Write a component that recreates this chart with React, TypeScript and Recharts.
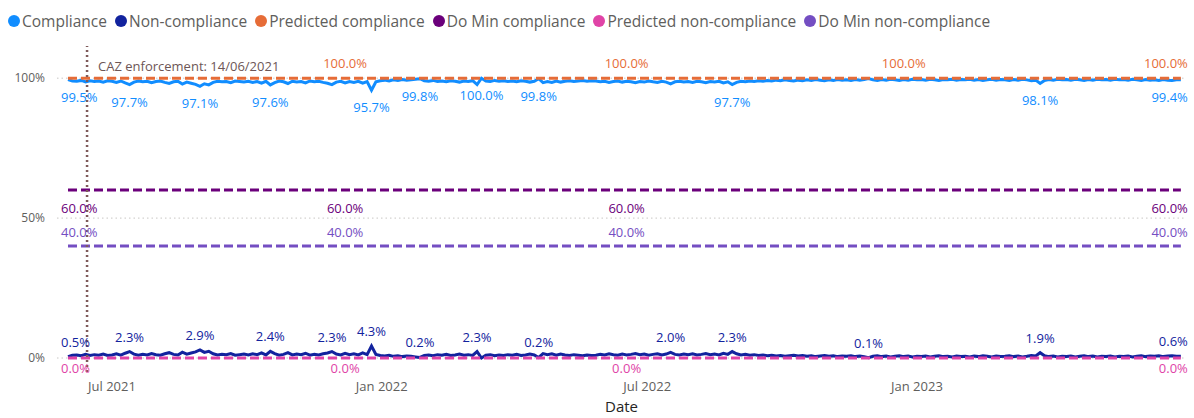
import { LineChart, Line, XAxis, YAxis, ReferenceLine } from 'recharts';

const FONT = '"Segoe UI", "Open Sans", sans-serif';
const DAY = 86400000;
const START = Date.UTC(2021, 5, 1);
const STEP_DAYS = 3;
const CAZ_DATE = Date.UTC(2021, 5, 14);

// 3-day readings, 01/06/2021 .. 30/06/2023
const compliance = [
  99.5, 99.0, 98.9, 99.2, 98.7, 99.1, 98.8, 99.0, 98.6, 99.1, 98.9, 98.5, 99.0, 98.3, 97.7, 98.6, 99.0, 98.7, 98.9, 98.4,
  98.8, 99.0, 98.5, 98.1, 98.7, 98.9, 97.9, 98.6, 98.2, 97.8, 97.1, 98.0, 97.6, 98.5, 98.9, 98.7, 98.8, 98.4, 99.0, 98.8,
  98.6, 98.9, 98.5, 98.8, 98.2, 98.9, 97.6, 98.4, 99.0, 98.7, 98.1, 98.9, 98.6, 98.8, 98.3, 99.0, 98.7, 98.9, 98.5, 98.2,
  97.7, 98.6, 98.9, 98.3, 98.8, 98.5, 98.9, 98.2, 98.8, 95.7, 98.7, 99.1, 99.3, 99.0, 99.4, 99.2, 99.5, 99.3, 99.4, 99.6,
  99.8, 99.1, 98.9, 99.2, 98.8, 99.0, 98.7, 99.1, 98.9, 98.6, 99.0, 98.8, 99.1, 97.7, 100.0, 99.0, 98.8, 99.2, 98.9, 99.1,
  98.8, 99.0, 98.7, 99.1, 98.9, 98.6, 98.9, 99.8, 98.4, 98.8, 98.5, 99.0, 98.6, 98.9, 99.1, 98.8, 99.0, 99.2, 98.9, 99.1,
  99.0, 98.7, 98.9, 98.5, 98.8, 99.0, 98.6, 98.9, 98.7, 98.4, 98.8, 98.6, 99.0, 98.7, 98.5, 98.9, 98.6, 98.0, 98.7, 98.9,
  98.6, 98.8, 98.5, 98.9, 98.7, 98.4, 98.8, 98.6, 98.9, 98.3, 98.7, 97.7, 98.5, 98.9, 98.7, 99.0, 98.8, 99.1, 98.9, 99.2,
  99.0, 99.3, 99.1, 99.4, 99.2, 99.0, 99.3, 99.1, 99.4, 99.2, 99.5, 99.3, 99.1, 99.4, 99.2, 99.5, 99.3, 99.4, 99.2, 99.5,
  99.3, 99.5, 99.9, 99.4, 99.2, 99.5, 99.3, 99.6, 99.4, 99.2, 99.5, 99.3, 99.6, 99.4, 99.5, 99.3, 99.6, 99.4, 99.2, 99.5,
  99.4, 99.6, 99.3, 99.5, 99.4, 99.6, 99.3, 99.5, 99.2, 99.4, 99.6, 99.3, 99.5, 99.4, 99.2, 99.5, 99.3, 99.6, 99.4, 99.1,
  99.3, 98.1, 99.2, 99.5, 99.3, 99.6, 99.4, 99.5, 99.3, 99.6, 99.4, 99.2, 99.5, 99.3, 99.6, 99.4, 99.5, 99.3, 99.6, 99.4,
  99.5, 99.3, 99.6, 99.4, 99.2, 99.5, 99.3, 99.4, 99.2, 99.5, 99.3, 99.2, 99.4, 99.4,
];

const nonCompliance = [
  0.5, 1.0, 1.1, 0.8, 1.3, 0.9, 1.2, 1.0, 1.4, 0.9, 1.1, 1.5, 1.0, 1.7, 2.3, 1.4, 1.0, 1.3, 1.1, 1.6,
  1.2, 1.0, 1.5, 1.9, 1.3, 1.1, 2.1, 1.4, 1.8, 2.2, 2.9, 2.0, 2.4, 1.5, 1.1, 1.3, 1.2, 1.6, 1.0, 1.2,
  1.4, 1.1, 1.5, 1.2, 1.8, 1.1, 2.4, 1.6, 1.0, 1.3, 1.9, 1.1, 1.4, 1.2, 1.7, 1.0, 1.3, 1.1, 1.5, 1.8,
  2.3, 1.4, 1.1, 1.7, 1.2, 1.5, 1.1, 1.8, 1.2, 4.3, 1.3, 0.9, 0.7, 1.0, 0.6, 0.8, 0.5, 0.7, 0.6, 0.4,
  0.2, 0.9, 1.1, 0.8, 1.2, 1.0, 1.3, 0.9, 1.1, 1.4, 1.0, 1.2, 0.9, 2.3, 0.0, 1.0, 1.2, 0.8, 1.1, 0.9,
  1.2, 1.0, 1.3, 0.9, 1.1, 1.4, 1.1, 0.2, 1.6, 1.2, 1.5, 1.0, 1.4, 1.1, 0.9, 1.2, 1.0, 0.8, 1.1, 0.9,
  1.0, 1.3, 1.1, 1.5, 1.2, 1.0, 1.4, 1.1, 1.3, 1.6, 1.2, 1.4, 1.0, 1.3, 1.5, 1.1, 1.4, 2.0, 1.3, 1.1,
  1.4, 1.2, 1.5, 1.1, 1.3, 1.6, 1.2, 1.4, 1.1, 1.7, 1.3, 2.3, 1.5, 1.1, 1.3, 1.0, 1.2, 0.9, 1.1, 0.8,
  1.0, 0.7, 0.9, 0.6, 0.8, 1.0, 0.7, 0.9, 0.6, 0.8, 0.5, 0.7, 0.9, 0.6, 0.8, 0.5, 0.7, 0.6, 0.8, 0.5,
  0.7, 0.5, 0.1, 0.6, 0.8, 0.5, 0.7, 0.4, 0.6, 0.8, 0.5, 0.7, 0.4, 0.6, 0.5, 0.7, 0.4, 0.6, 0.8, 0.5,
  0.6, 0.4, 0.7, 0.5, 0.6, 0.4, 0.7, 0.5, 0.8, 0.6, 0.4, 0.7, 0.5, 0.6, 0.8, 0.5, 0.7, 0.4, 0.6, 0.9,
  0.7, 1.9, 0.8, 0.5, 0.7, 0.4, 0.6, 0.5, 0.7, 0.4, 0.6, 0.8, 0.5, 0.7, 0.4, 0.6, 0.5, 0.7, 0.4, 0.6,
  0.5, 0.7, 0.4, 0.6, 0.8, 0.5, 0.7, 0.6, 0.8, 0.5, 0.7, 0.8, 0.6, 0.6,
];

// flat target lines
const predictedCompliance = 100;
const doMinCompliance = 60;
const predictedNonCompliance = 0;
const doMinNonCompliance = 40;

const xTicks = [Date.UTC(2021, 6, 1), Date.UTC(2022, 0, 1), Date.UTC(2022, 6, 1), Date.UTC(2023, 0, 1)];
const xTickLabels = ['Jul 2021', 'Jan 2022', 'Jul 2022', 'Jan 2023'];
const yTicks = [0, 50, 100];

// points that carry a data label (Power BI picks a few)
const complianceLabels = [0, 14, 30, 46, 69, 80, 94, 107, 151, 221, 253];
const nonComplianceLabels = [0, 14, 30, 46, 60, 69, 80, 93, 107, 137, 151, 182, 221, 253];
const predictedCompLabels = [63, 127, 190, 253];
const doMinLabels = [0, 63, 127, 253];
const predictedNonLabels = [0, 63, 127, 253];

const data = compliance.map((c, i) => ({
  t: START + i * STEP_DAYS * DAY,
  compliance: c,
  nonCompliance: nonCompliance[i],
  predictedCompliance,
  doMinCompliance,
  predictedNonCompliance,
  doMinNonCompliance,
}));
const LAST = data.length - 1;

const series = [
  { key: 'compliance', name: 'Compliance', color: '#118DFF', dash: undefined, labels: complianceLabels, dy: 17 },
  { key: 'nonCompliance', name: 'Non-compliance', color: '#12239E', dash: undefined, labels: nonComplianceLabels, dy: -15 },
  { key: 'predictedCompliance', name: 'Predicted compliance', color: '#E66C37', dash: '9 4', labels: predictedCompLabels, dy: -15 },
  { key: 'doMinCompliance', name: 'Do Min compliance', color: '#6B007B', dash: '9 4', labels: doMinLabels, dy: 18 },
  { key: 'predictedNonCompliance', name: 'Predicted non-compliance', color: '#E044A7', dash: '9 4', labels: predictedNonLabels, dy: 10 },
  { key: 'doMinNonCompliance', name: 'Do Min non-compliance', color: '#744EC2', dash: '9 4', labels: doMinLabels, dy: -14 },
];

function labelDot(key: string, color: string, idxs: number[], dy: number) {
  return (p: any) => {
    const { index, cx, cy, payload } = p;
    if (!idxs.includes(index)) return <g key={`${key}-${index}`} />;
    let anchor: 'start' | 'middle' | 'end' = 'middle';
    let x = cx;
    if (index === 0) { anchor = 'start'; x = cx - 7; }
    if (index === LAST) { anchor = 'end'; x = cx + 7; }
    return (
      <text key={`${key}-${index}`} x={x} y={cy + dy} fill={color} fontSize={13} fontFamily={FONT}
        textAnchor={anchor} dominantBaseline="central">
        {payload[key].toFixed(1)}%
      </text>
    );
  };
}

const CazLabel = (props: any) => {
  const { viewBox } = props;
  return (
    <text x={viewBox.x + 11} y={viewBox.y + 20} fill="#6D5656" fontSize={13} fontFamily={FONT} dominantBaseline="central">
      CAZ enforcement: 14/06/2021
    </text>
  );
};

export default function App() {
  return (
    <div style={{ position: 'absolute', left: 0, top: 0, width: 1194, height: 418, background: '#fff', fontFamily: FONT }}>
      <div style={{ position: 'absolute', left: 8, top: 11, display: 'flex', gap: 8, fontSize: 15.5, color: '#605E5C', whiteSpace: 'nowrap', lineHeight: '20px' }}>
        {series.map((s) => (
          <span key={s.key} style={{ display: 'flex', alignItems: 'center' }}>
            <span style={{ width: 12, height: 12, borderRadius: '50%', background: s.color, marginRight: 2, display: 'inline-block' }} />
            {s.name}
          </span>
        ))}
      </div>
      <div style={{ position: 'absolute', left: 0, top: 0 }}>
        <LineChart width={1194} height={418} data={data} margin={{ top: 46, right: 8, bottom: 0, left: 0 }}>
          <XAxis
            dataKey="t"
            type="number"
            scale="time"
            domain={[START - 7.5 * DAY, START + 762.5 * DAY]}
            ticks={xTicks}
            tickFormatter={(v: number) => xTickLabels[xTicks.indexOf(v)]}
            axisLine={false}
            tickLine={false}
            tickSize={0}
            tickMargin={10}
            height={46}
            tick={{ fill: '#605E5C', fontSize: 13, fontFamily: FONT }}
            label={{ value: 'Date', position: 'insideBottom', offset: 6, fill: '#252423', fontSize: 15, fontFamily: FONT }}
          />
          <YAxis
            type="number"
            domain={[-5, 111.5]}
            ticks={yTicks}
            tickFormatter={(v: number) => `${v}%`}
            axisLine={false}
            tickLine={false}
            tickSize={0}
            tickMargin={12}
            width={57}
            tick={{ fill: '#605E5C', fontSize: 12, fontFamily: FONT }}
          />
          {yTicks.map((v) => (
            <ReferenceLine key={`grid-${v}`} y={v} stroke="#C8C6C4" strokeDasharray="1.5 3" />
          ))}
          {series.map((s) => (
            <Line
              key={s.key}
              type="linear"
              dataKey={s.key}
              name={s.name}
              stroke={s.color}
              strokeWidth={3}
              strokeDasharray={s.dash}
              dot={labelDot(s.key, s.color, s.labels, s.dy)}
              activeDot={false}
              isAnimationActive={false}
            />
          ))}
          <ReferenceLine x={CAZ_DATE} stroke="#7E5A5A" strokeWidth={2.5} strokeDasharray="2 3" label={<CazLabel />} />
        </LineChart>
      </div>
    </div>
  );
}
